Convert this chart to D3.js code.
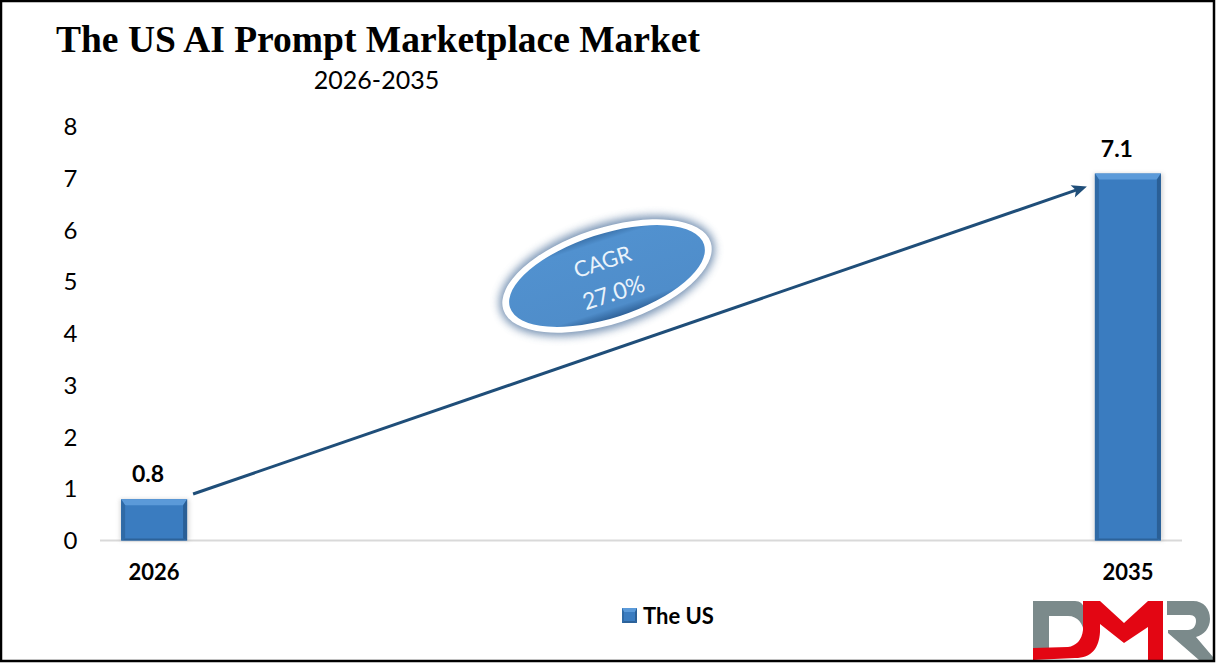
<!DOCTYPE html>
<html>
<head>
<meta charset="utf-8">
<script src="https://d3js.org/d3.v7.min.js"></script>
<style>
html, body { margin: 0; padding: 0; background: white; }
svg { display: block; }
text { font-family: Lato, "Open Sans", sans-serif; fill: black; }
</style>
</head>
<body>
<div id="vis"></div>
<script>
// chart data
var years = ["2026", "2027", "2028", "2029", "2030", "2031", "2032", "2033", "2034", "2035"];
var barYears = ["2026", "2035"];
var barValues = [0.8, 7.1];
var barLabels = ["0.8", "7.1"];
var yTicks = [0, 1, 2, 3, 4, 5, 6, 7, 8];
var seriesName = "The US";
var titleText = "The US AI Prompt Marketplace Market";
var subtitleText = "2026-2035";
var cagrLines = ["CAGR", "27.0%"];
// where the arrow starts and ends, in axis units
var arrowValues = [0.9, 6.85];

// svg properties
var svgWidth = 1216;
var svgHeight = 663;

var svg = d3.select('#vis').append('svg')
  .attr('width', svgWidth)
  .attr('height', svgHeight);

var defs = svg.append('defs');

// soft shadow under the ellipse
var glow = defs.append('filter').attr('id', 'glow')
  .attr('x', '-20%').attr('y', '-30%').attr('width', '140%').attr('height', '160%');
glow.append('feGaussianBlur').attr('stdDeviation', 4);

var innerBlur = defs.append('filter').attr('id', 'innerBlur')
  .attr('x', '-20%').attr('y', '-30%').attr('width', '140%').attr('height', '160%');
innerBlur.append('feGaussianBlur').attr('stdDeviation', 2);

var ovalGrad = defs.append('linearGradient').attr('id', 'ovalGrad')
  .attr('x1', 0).attr('y1', 0).attr('x2', 0).attr('y2', 1);
ovalGrad.append('stop').attr('offset', '0%').attr('stop-color', '#3c74ad');
ovalGrad.append('stop').attr('offset', '9%').attr('stop-color', '#5191cf');
ovalGrad.append('stop').attr('offset', '88%').attr('stop-color', '#4f8dca');
ovalGrad.append('stop').attr('offset', '100%').attr('stop-color', '#2f6299');

// scales
var xScale = d3.scaleBand().domain(years).range([100, 1182]).paddingInner(0.39).paddingOuter(0.195);
var yScale = d3.scaleLinear().domain([0, 8]).range([540.5, 127]);

// axis line
svg.append('line')
  .attr('x1', xScale.range()[0])
  .attr('x2', xScale.range()[1])
  .attr('y1', yScale(0))
  .attr('y2', yScale(0))
  .attr('stroke', '#d9d9d9')
  .attr('stroke-width', 2);

// y tick labels
svg.selectAll('.yLabel')
  .data(yTicks)
  .enter().append('text')
  .attr('class', 'yLabel')
  .attr('x', 70.5)
  .attr('y', function (d) { return yScale(d); })
  .attr('dy', '0.35em')
  .attr('text-anchor', 'middle')
  .attr('font-size', 24)
  .text(function (d) { return d; });

// x tick labels
svg.selectAll('.xLabel')
  .data(barYears)
  .enter().append('text')
  .attr('class', 'xLabel')
  .attr('x', function (d) { return xScale(d) + xScale.bandwidth() / 2; })
  .attr('y', 572)
  .attr('dy', '0.35em')
  .attr('text-anchor', 'middle')
  .attr('font-size', 22)
  .attr('font-weight', 700)
  .text(function (d) { return d; });

// bevelled bar: base colour plus four facets
function drawBevel(g, x, y, w, h, top, side) {
  g.append('rect').attr('x', x).attr('y', y).attr('width', w).attr('height', h).attr('fill', '#3a7cc0');
  var facets = [
    {c: '#5b9ad9', p: [[x, y], [x + w, y], [x + w - side, y + top], [x + side, y + top]]},
    {c: '#2f6aa6', p: [[x, y], [x + side, y + top], [x + side, y + h - 2], [x, y + h]]},
    {c: '#2a5f96', p: [[x + w, y], [x + w - side, y + top], [x + w - side, y + h - 2], [x + w, y + h]]},
    {c: '#2c6299', p: [[x, y + h], [x + side, y + h - 2], [x + w - side, y + h - 2], [x + w, y + h]]}
  ];
  facets.forEach(function (f) {
    g.append('polygon')
      .attr('points', f.p.map(function (q) { return q.join(','); }).join(' '))
      .attr('fill', f.c);
  });
}

// faint shadow + bars
barYears.forEach(function (year, i) {
  var x = xScale(year);
  var y = yScale(barValues[i]);
  var h = yScale(0) - y;
  svg.append('rect')
    .attr('x', x - 1).attr('y', y).attr('width', xScale.bandwidth() + 3).attr('height', h)
    .attr('fill', '#8a8a8a').attr('opacity', 0.35).attr('filter', 'url(#innerBlur)');
  drawBevel(svg.append('g'), x, y, xScale.bandwidth(), h, 6, 4);
});

// value labels
svg.selectAll('.barLabel')
  .data(barValues)
  .enter().append('text')
  .attr('class', 'barLabel')
  .attr('x', function (d, i) { return xScale(barYears[i]) + xScale.bandwidth() / 2 + (i == 0 ? -6 : -11); })
  .attr('y', function (d) { return yScale(d) - 25; })
  .attr('dy', '0.35em')
  .attr('text-anchor', 'middle')
  .attr('font-size', 23)
  .attr('font-weight', 700)
  .text(function (d, i) { return barLabels[i]; });

// CAGR arrow
var arrowStart = [xScale(barYears[0]) + xScale.bandwidth() + 6, yScale(arrowValues[0])];
var arrowEnd = [xScale(barYears[1]) - 8, yScale(arrowValues[1])];
var arrowAngle = Math.atan2(arrowEnd[1] - arrowStart[1], arrowEnd[0] - arrowStart[0]);

svg.append('line')
  .attr('x1', arrowStart[0])
  .attr('y1', arrowStart[1])
  .attr('x2', arrowEnd[0] - 10 * Math.cos(arrowAngle))
  .attr('y2', arrowEnd[1] - 10 * Math.sin(arrowAngle))
  .attr('stroke', '#1f4e79')
  .attr('stroke-width', 3);

svg.append('path')
  .attr('d', 'M0,0L-15,-6.5L-11.5,0L-15,6.5Z')
  .attr('fill', '#1f4e79')
  .attr('transform', 'translate(' + arrowEnd[0] + ',' + arrowEnd[1] + ') rotate(' + (arrowAngle * 180 / Math.PI) + ')');

// CAGR ellipse
var oval = svg.append('g').attr('transform', 'translate(607,276) rotate(-18)');
oval.append('ellipse').attr('rx', 112).attr('ry', 52).attr('fill', '#3f6694').attr('opacity', 0.7).attr('filter', 'url(#glow)');
oval.append('ellipse').attr('rx', 109).attr('ry', 48).attr('fill', 'white');
oval.append('ellipse').attr('rx', 102).attr('ry', 42).attr('fill', 'url(#ovalGrad)');

oval.selectAll('.cagrText')
  .data(cagrLines)
  .enter().append('text')
  .attr('class', 'cagrText')
  .attr('x', function (d, i) { return i == 0 ? 0 : 1; })
  .attr('y', function (d, i) { return -15 + i * 33; })
  .attr('dy', '0.35em')
  .attr('text-anchor', 'middle')
  .attr('font-size', function (d, i) { return i == 0 ? 22 : 23; })
  .style('fill', '#eaf3fb')
  .text(function (d) { return d; });

// title
svg.append('text')
  .attr('x', 56)
  .attr('y', 51.5)
  .style('font-family', '"Liberation Serif", serif')
  .attr('font-size', 37.5)
  .attr('font-weight', 700)
  .text(titleText);

svg.append('text')
  .attr('x', 376.5)
  .attr('y', 80)
  .attr('dy', '0.35em')
  .attr('text-anchor', 'middle')
  .attr('font-size', 25)
  .text(subtitleText);

// legend
var legend = svg.append('g');
drawBevel(legend, 622, 608, 15, 15, 4, 2);
legend.append('text')
  .attr('x', 643)
  .attr('y', 616)
  .attr('dy', '0.35em')
  .attr('font-size', 22)
  .attr('font-weight', 700)
  .text(seriesName);

// DMR logo
var logo = svg.append('g');
logo.append('path')
  .attr('fill', '#7b8a8b')
  .attr('d', 'M1033,601H1075C1080,601 1084,604 1084,610V632C1083,624 1078,616 1068,616H1049V648H1033Z');
logo.append('path')
  .attr('fill', '#e30613')
  .attr('d', 'M1033,648L1068,647C1076,646 1082,640 1083,630V601H1100L1124,623L1148,601H1163V660H1148V627L1124,643L1100,624V632C1099,648 1092,658 1075,658L1033,660Z');
logo.append('path')
  .attr('fill', '#7b8a8b')
  .attr('d', 'M1167,601H1193C1204,601 1210,609 1210,619C1210,628 1204,635 1196,637L1213,657V660H1199L1168,633V630H1188C1193,630 1196,626 1196,621C1196,616 1193,615 1188,615H1167Z');

// frame around the picture
svg.append('rect')
  .attr('x', 1)
  .attr('y', 1)
  .attr('width', 1213)
  .attr('height', 660)
  .attr('fill', 'none')
  .attr('stroke', 'black')
  .attr('stroke-width', 2.5);
</script>
</body>
</html>
